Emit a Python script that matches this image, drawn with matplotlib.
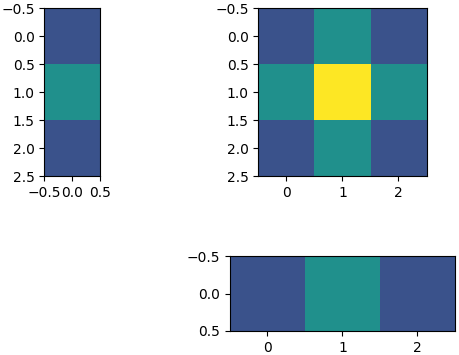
import matplotlib
matplotlib.use("Agg")
import matplotlib.pyplot as plt
import numpy as np

# values (viridis, shared norm 0..4)
col_vals = [[1], [2], [1]]
grid_vals = [[1, 2, 1],
             [2, 4, 2],
             [1, 2, 1]]
row_vals = [[1, 2, 1]]

W, H = 459, 355
fig = plt.figure(figsize=(W / 100, H / 100), dpi=100)


def px_axes(x0, y0, x1, y1):
    # pixel box (top-left origin) -> figure fraction
    return fig.add_axes([x0 / W, 1 - y1 / H, (x1 - x0) / W, (y1 - y0) / H])


kw = dict(cmap="viridis", vmin=0, vmax=4, aspect="auto", interpolation="nearest")

ax_col = px_axes(44.3, 8.3, 100.3, 176.3)
ax_col.imshow(np.array(col_vals), **kw)
ax_col.set_xticks([-0.5, 0.0, 0.5])
ax_col.set_yticks([-0.5, 0.0, 0.5, 1.0, 1.5, 2.0, 2.5])

ax_main = px_axes(258.3, 8.3, 426.5, 176.3)
ax_main.imshow(np.array(grid_vals), **kw)
ax_main.set_xticks([0, 1, 2])
ax_main.set_yticks([-0.5, 0.0, 0.5, 1.0, 1.5, 2.0, 2.5])

ax_row = px_axes(230, 256, 455, 331)
ax_row.imshow(np.array(row_vals), **kw)
ax_row.set_xticks([0, 1, 2])
ax_row.set_yticks([-0.5, 0.0, 0.5])

fig.savefig("out.png", dpi=100, facecolor="white")
